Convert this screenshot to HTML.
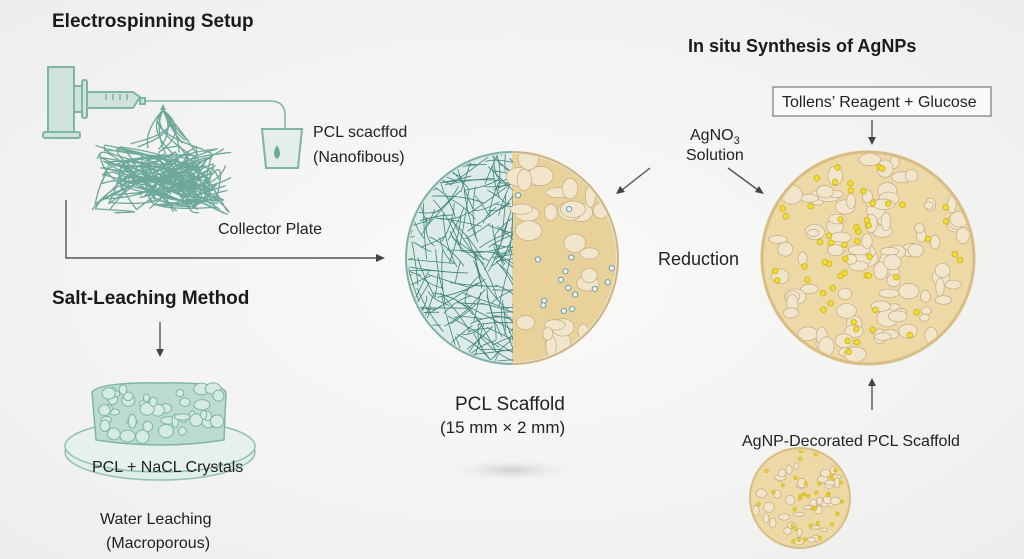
<!DOCTYPE html>
<html><head><meta charset="utf-8"><style>
html,body{margin:0;padding:0;background:#f3f3f2;}
svg{display:block;font-family:"Liberation Sans",sans-serif;}
</style></head><body>
<svg id="s" width="1024" height="559" viewBox="0 0 1024 559" xmlns="http://www.w3.org/2000/svg">
<defs>
<radialGradient id="bg" cx="0.5" cy="0.5" r="0.7"><stop offset="0" stop-color="#fafaf9"/><stop offset="1" stop-color="#eeeeec"/></radialGradient>
<radialGradient id="sh" cx="0.5" cy="0.5" r="0.5"><stop offset="0" stop-color="#cfcfcf"/><stop offset="1" stop-color="#f3f3f2" stop-opacity="0"/></radialGradient>
<clipPath id="c1"><circle cx="512" cy="258" r="104"/></clipPath>
<clipPath id="c1l"><rect x="400" y="150" width="113" height="220"/></clipPath>
<clipPath id="c2"><circle cx="868" cy="258" r="104"/></clipPath>
<clipPath id="c3"><circle cx="800" cy="498" r="48"/></clipPath>
</defs>
<rect width="1024" height="559" fill="url(#bg)"/>
<g font-weight="bold" fill="#1a1a1a">
<text x="52" y="27" font-size="19">Electrospinning Setup</text>
<text x="688" y="52" font-size="18">In situ Synthesis of AgNPs</text>
<text x="52" y="304" font-size="19">Salt-Leaching Method</text>
</g>
<g fill="#222" font-size="16">
<text x="313" y="137">PCL scacffod</text>
<text x="313" y="162">(Nanofibous)</text>
<text x="218" y="234">Collector Plate</text>
<text x="690" y="140">AgNO<tspan font-size="11" dy="4">3</tspan></text>
<text x="686" y="160">Solution</text>
<text x="658" y="265" font-size="18">Reduction</text>
<text x="742" y="446">AgNP-Decorated PCL Scaffold</text>
<text x="100" y="524">Water Leaching</text>
<text x="106" y="548">(Macroporous)</text>
<text x="455" y="410" font-size="19">PCL Scaffold</text>
<text x="440" y="433" font-size="17">(15 mm × 2 mm)</text>
</g>
<rect x="773" y="87" width="218" height="29" fill="#fafafa" stroke="#777" stroke-width="1.2"/>
<text x="782" y="107" font-size="16" fill="#222">Tollens’ Reagent + Glucose</text>
<g fill="#cfe3dc" stroke="#7fb5a6" stroke-width="2">
<rect x="48" y="67" width="26" height="65"/>
<rect x="43" y="132" width="37" height="6" rx="2"/>
<rect x="74" y="86" width="10" height="26"/>
<rect x="82" y="80" width="5" height="38" rx="2"/>
<path d="M87 92 H133 L140 97 L133 108 H87Z"/>
<rect x="140" y="98" width="5" height="6"/>
<path d="M262 129 H302 L298 168 H266Z" fill="#e4efeb"/>
</g>
<path d="M106 94v6M113 94v6M120 94v6M127 94v6" stroke="#7fb5a6" stroke-width="1.5"/>
<path d="M145 101 H270 Q285 101 285 115 V129" fill="none" stroke="#7fb5a6" stroke-width="1.5"/>
<path d="M277 145 q-6 10 0 14 q6 -4 0 -14z" fill="#6da89a"/>
<g id="fib" fill="none" stroke="#6da89a" stroke-width="1.3"></g>
<path d="M163 104 l-3 6 h6z" fill="#6da89a"/>
<g stroke="#555" stroke-width="1.4" fill="none">
<path d="M66 200 V258 H378"/>
<path d="M160 322 V350"/>
<path d="M650 168 L622 190"/>
<path d="M728 168 L758 190"/>
<path d="M872 120 V138"/>
<path d="M872 410 V385"/>
</g>
<g fill="#444">
<path d="M385 258 l-9 -4 v8z"/>
<path d="M160 357 l-4 -8 h8z"/>
<path d="M616 194 l4 -8 l5 6z"/>
<path d="M764 194 l-9 -2 l4 -6z"/>
<path d="M872 145 l-4 -8 h8z"/>
<path d="M872 378 l-4 8 h8z"/>
</g>
<ellipse cx="160" cy="452" rx="95" ry="28" fill="#e0ede8" stroke="#8fc0b2" stroke-width="1.5"/>
<ellipse cx="160" cy="446" rx="95" ry="26" fill="#e6f1ed" stroke="#8fc0b2" stroke-width="1.5"/>
<path d="M92 392 Q100 382 160 383 Q220 382 226 392 L224 440 Q160 450 96 440Z" fill="#bcdcd2" stroke="#7fb5a6" stroke-width="1.5"/>
<g id="salt" fill="#d4eae3" stroke="#7fb5a6" stroke-width="1"></g>
<text x="92" y="472" font-size="16" fill="#222">PCL + NaCL Crystals</text>
<ellipse cx="512" cy="470" rx="70" ry="12" fill="url(#sh)"/>
<circle cx="512" cy="258" r="106" fill="#dde8e4"/>
<rect x="400" y="150" width="113" height="220" fill="#dcebe7" clip-path="url(#c1)"/>
<rect x="512" y="150" width="112" height="220" fill="#e9d19a" clip-path="url(#c1)"/>
<g clip-path="url(#c1)"><g id="net" clip-path="url(#c1l)" stroke="#3f8378" stroke-width="0.8" fill="none"></g></g>
<g id="pores1" clip-path="url(#c1)"></g>
<path d="M512 152 A106 106 0 0 0 512 364" fill="none" stroke="#7fb0aa" stroke-width="2"/>
<path d="M512 152 A106 106 0 0 1 512 364" fill="none" stroke="#d4b27a" stroke-width="2"/>
<circle cx="868" cy="258" r="106" fill="#ecd9a6" stroke="#d8bd85" stroke-width="3"/>
<g id="pores2" clip-path="url(#c2)"></g>
<circle cx="800" cy="498" r="50" fill="#ecd9a6" stroke="#d8bd85" stroke-width="2"/>
<g id="pores3" clip-path="url(#c3)"></g>
</svg>
<script>
var seed=7;function r(){seed=(seed*16807)%2147483647;return (seed-1)/2147483646;}
var NS="http://www.w3.org/2000/svg";
function el(p,t,a){var e=document.createElementNS(NS,t);for(var k in a)e.setAttribute(k,a[k]);p.appendChild(e);return e;}
var f=document.getElementById('fib');
for(var i=0;i<45;i++){var x1=92+r()*140,y1=150+r()*65;
var d='M'+x1+' '+y1;
for(var j=0;j<2;j++){d+=' C'+(90+r()*145)+' '+(140+r()*80)+' '+(90+r()*145)+' '+(140+r()*80)+' '+(95+r()*135)+' '+(145+r()*70);}
el(f,'path',{d:d});}
for(var i=0;i<14;i++){el(f,'path',{d:'M163 110 Q'+(140+r()*50)+' 130 '+(125+r()*80)+' '+(140+r()*20)});}
var s=document.getElementById('salt');
for(var i=0;i<45;i++){el(s,'ellipse',{cx:98+r()*124,cy:388+r()*50,rx:3+r()*5,ry:3+r()*4});}
var n=document.getElementById('net');
for(var i=0;i<240;i++){var x=400+r()*115,y=150+r()*216,a=r()*6.28,L=20+r()*45;
el(n,'path',{d:'M'+x+' '+y+' q'+(Math.cos(a)*L/2+(r()-.5)*15)+' '+(Math.sin(a)*L/2+(r()-.5)*15)+' '+Math.cos(a)*L+' '+Math.sin(a)*L});}
function pores(g,cx,cy,R,xmin,nb,nd,dotc,dr,sz){
 for(var i=0;i<nb;i++){var a=r()*6.28,d=Math.sqrt(r())*R;var x=cx+Math.cos(a)*d,y=cy+Math.sin(a)*d;if(x<xmin)continue;
  el(g,'ellipse',{cx:x,cy:y,rx:R*sz*(0.6+r()),ry:R*sz*(0.5+r()*0.9),fill:'#f1e6cc',stroke:'#c9b188','stroke-width':0.8});}
 for(var i=0;i<nd;i++){var a=r()*6.28,d=Math.sqrt(r())*R;var x=cx+Math.cos(a)*d,y=cy+Math.sin(a)*d;if(x<xmin)continue;
  el(g,'circle',{cx:x,cy:y,r:dr,fill:dotc.f,stroke:dotc.s,'stroke-width':1});}
}
pores(document.getElementById('pores1'),512,258,104,518,60,45,{f:'#eef3f3',s:'#6f9aa8'},2.6,0.08);
pores(document.getElementById('pores2'),868,258,100,0,100,55,{f:'#f2dc3a',s:'#d4b820'},2.8,0.07);
pores(document.getElementById('pores3'),800,498,47,0,40,35,{f:'#f2dc3a',s:'#d4b820'},1.6,0.08);
</script>
</body></html>
